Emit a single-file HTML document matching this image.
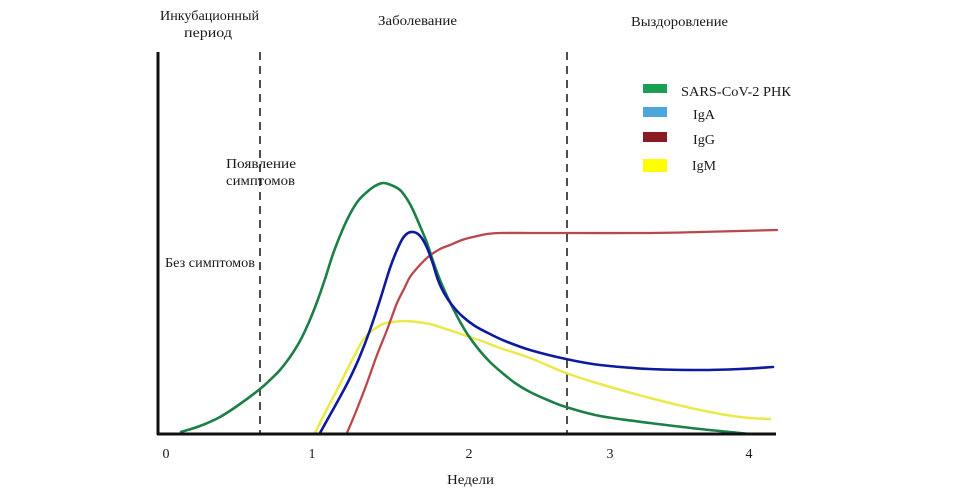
<!DOCTYPE html>
<html>
<head>
<meta charset="utf-8">
<style>
  html,body{margin:0;padding:0;background:#fff;}
  svg{display:block;}
  text{font-family:"Liberation Serif","DejaVu Serif",serif;fill:#1a1a1a;font-size:14px;}
</style>
</head>
<body>
<svg id="chart" width="960" height="497" viewBox="0 0 960 497" xmlns="http://www.w3.org/2000/svg">
  <rect width="960" height="497" fill="#fff"/>

  <!-- titles -->
  <text x="160" y="20" textLength="99" lengthAdjust="spacingAndGlyphs">Инкубационный</text>
  <text x="184" y="37" textLength="48" lengthAdjust="spacingAndGlyphs">период</text>
  <text x="378" y="25" textLength="79" lengthAdjust="spacingAndGlyphs">Заболевание</text>
  <text x="631" y="26" textLength="97" lengthAdjust="spacingAndGlyphs">Выздоровление</text>

  <text x="226" y="168" textLength="70" lengthAdjust="spacingAndGlyphs">Появление</text>
  <text x="226" y="185" textLength="69" lengthAdjust="spacingAndGlyphs">симптомов</text>
  <text x="165" y="267" textLength="90" lengthAdjust="spacingAndGlyphs">Без симптомов</text>

  <!-- dashed lines -->
  <line x1="260" y1="52" x2="260" y2="433" stroke="#222" stroke-width="1.6" stroke-dasharray="8,6"/>
  <line x1="567" y1="52" x2="567" y2="433" stroke="#222" stroke-width="1.6" stroke-dasharray="8,6"/>

  <!-- curves -->
  <polyline class="smooth" fill="none" stroke="#e9ea4a" stroke-width="2.5" stroke-linejoin="round" stroke-linecap="round"
    points="315,433 326,411 337,390 350,364 363,340 372,331 383,324 393,322 405,321 417,322 430,324 443,328 458,333 473,338 487,343 500,348 530,358 566,373 600,384 650,398 700,410 740,417 770,419"/>
  <polyline class="smooth" fill="none" stroke="#b9484a" stroke-width="2.3" stroke-linejoin="round" stroke-linecap="round"
    points="347,433 357,409 367,383 377,355 387,330 397,303 404,289 410,277 419,266 428,257 440,249 450,245 462,240 473,237 487,234 500,233 530,233 566,233 650,233 700,232 777,230"/>
  <polyline class="smooth" fill="none" stroke="#1c7f48" stroke-width="2.6" stroke-linejoin="round" stroke-linecap="round"
    points="181,432 200,426 220,417 240,404 260,389 270,380 280,370 290,357 300,341 309,322 317,302 325,279 333,254 342,231 350,214 358,201 367,192 375,186 383,183 391,185 400,190 407,199 413,210 420,226 427,243 433,261 440,280 448,298 458,318 468,335 480,351 490,362 500,371 515,383 530,392 550,401 566,407 600,416 650,423 700,429 730,432 750,434"/>
  <polyline class="smooth" fill="none" stroke="#0d1a9e" stroke-width="2.6" stroke-linejoin="round" stroke-linecap="round"
    points="320,433 330,415 340,397 350,378 360,356 370,330 380,300 390,268 397,250 403,238 408,233 413,232 418,234 423,240 428,250 433,264 438,280 444,293 452,305 462,316 475,326 490,334 505,341 530,350 566,359 600,365 650,369 700,370 740,369 773,367"/>

  <!-- axes -->
  <line x1="158" y1="52" x2="158" y2="435" stroke="#111" stroke-width="3"/>
  <line x1="157" y1="434" x2="776" y2="434" stroke="#111" stroke-width="3"/>

  <!-- tick labels -->
  <text x="166" y="458" text-anchor="middle">0</text>
  <text x="312" y="458" text-anchor="middle">1</text>
  <text x="469" y="458" text-anchor="middle">2</text>
  <text x="610" y="458" text-anchor="middle">3</text>
  <text x="749" y="458" text-anchor="middle">4</text>
  <text x="447" y="484" textLength="47" lengthAdjust="spacingAndGlyphs">Недели</text>

  <!-- legend -->
  <rect x="643" y="84" width="24" height="9" fill="#1aa052"/>
  <rect x="643" y="107" width="24" height="10" fill="#4aa6dd"/>
  <rect x="643" y="132" width="24" height="10" fill="#8b1a22"/>
  <rect x="643" y="159" width="24" height="13" fill="#ffff00"/>
  <text x="681" y="96" textLength="110" lengthAdjust="spacingAndGlyphs">SARS-CoV-2 РНК</text>
  <text x="693" y="119" textLength="22" lengthAdjust="spacingAndGlyphs">IgA</text>
  <text x="693" y="144" textLength="22" lengthAdjust="spacingAndGlyphs">IgG</text>
  <text x="692" y="170" textLength="24" lengthAdjust="spacingAndGlyphs">IgM</text>
</svg>
<script>
(function(){
  var NS="http://www.w3.org/2000/svg";
  var pls=document.querySelectorAll("polyline.smooth");
  for(var i=0;i<pls.length;i++){
    var pl=pls[i];
    var raw=pl.getAttribute("points").trim().split(/\s+/).map(function(s){var a=s.split(",");return [parseFloat(a[0]),parseFloat(a[1])];});
    var d="M"+raw[0][0]+","+raw[0][1];
    for(var k=0;k<raw.length-1;k++){
      var p0=raw[k-1]||raw[k], p1=raw[k], p2=raw[k+1], p3=raw[k+2]||raw[k+1];
      var c1x=p1[0]+(p2[0]-p0[0])/6, c1y=p1[1]+(p2[1]-p0[1])/6;
      var c2x=p2[0]-(p3[0]-p1[0])/6, c2y=p2[1]-(p3[1]-p1[1])/6;
      d+=" C"+c1x.toFixed(2)+","+c1y.toFixed(2)+" "+c2x.toFixed(2)+","+c2y.toFixed(2)+" "+p2[0]+","+p2[1];
    }
    var path=document.createElementNS(NS,"path");
    path.setAttribute("d",d);
    ["fill","stroke","stroke-width","stroke-linejoin","stroke-linecap"].forEach(function(a){path.setAttribute(a,pl.getAttribute(a));});
    pl.parentNode.replaceChild(path,pl);
  }
})();
</script>
</body>
</html>
